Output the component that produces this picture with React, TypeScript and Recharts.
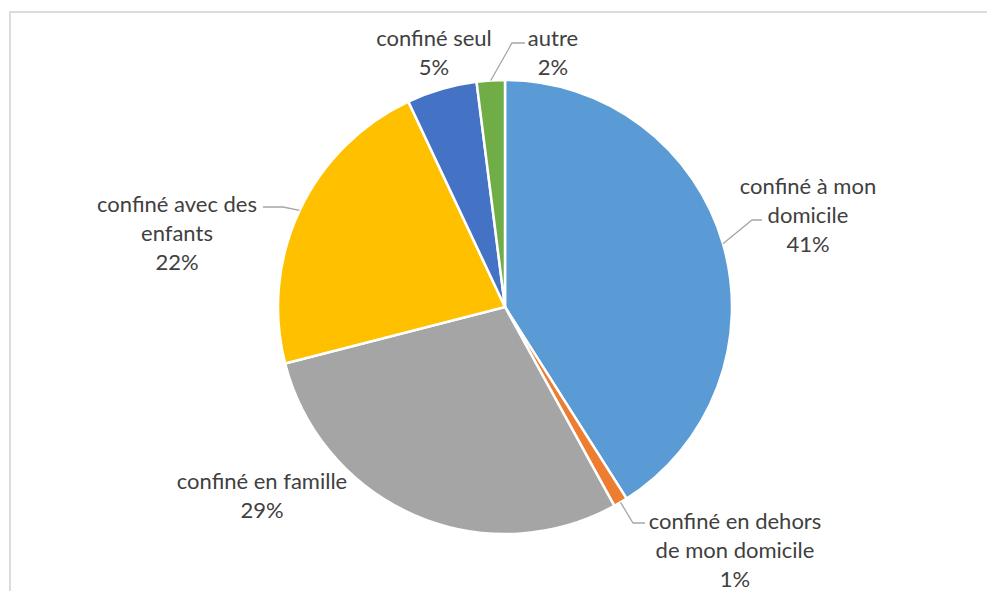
import React from "react";
import { PieChart, Pie, Cell } from "recharts";

const CATEGORIES = [
  "confiné à mon domicile",
  "confiné en dehors de mon domicile",
  "confiné en famille",
  "confiné avec des enfants",
  "confiné seul",
  "autre",
];
const VALUES = [41, 1, 29, 22, 5, 2];
const LABEL_LINES = [
  ["confiné à mon", "domicile"],
  ["confiné en dehors", "de mon domicile"],
  ["confiné en famille"],
  ["confiné avec des", "enfants"],
  ["confiné seul"],
  ["autre"],
];
const COLORS = ["#5B9BD5", "#ED7D31", "#A5A5A5", "#FFC000", "#4472C4", "#70AD47"];

// label layout relative to pie centre (first line centre, optional leader elbow/end)
const LABEL_LAYOUT: { dx: number; dy: number; leader?: [number, number][] }[] = [
  { dx: 303, dy: -122, leader: [[247, -87], [257, -87]] },
  { dx: 230, dy: 213, leader: [[128, 216], [140, 216]] },
  { dx: -243, dy: 173 },
  { dx: -328, dy: -104, leader: [[-222, -100], [-242, -100]] },
  { dx: -71, dy: -270 },
  { dx: 48, dy: -270, leader: [[7, -264], [20, -264]] },
];

const data = CATEGORIES.map((name, i) => ({ name, value: VALUES[i] }));
const RAD = Math.PI / 180;
const LINE_H = 29;

const renderLabel = (props: any) => {
  const { cx, cy, midAngle, outerRadius, index, percent } = props;
  const lay = LABEL_LAYOUT[index];
  const lines = [...LABEL_LINES[index], `${Math.round(percent * 100)}%`];
  const sx = cx + outerRadius * Math.cos(-midAngle * RAD);
  const sy = cy + outerRadius * Math.sin(-midAngle * RAD);
  let leader = null;
  if (lay.leader) {
    const pts = [[sx, sy], ...lay.leader.map(([x, y]) => [cx + x, cy + y])];
    leader = (
      <polyline
        points={pts.map((p) => p.join(",")).join(" ")}
        fill="none"
        stroke="#A6A6A6"
        strokeWidth={1.3}
      />
    );
  }
  return (
    <g key={`lbl-${index}`}>
      {leader}
      {lines.map((t, k) => (
        <text
          key={k}
          x={cx + lay.dx}
          y={cy + lay.dy + k * LINE_H}
          textAnchor="middle"
          dominantBaseline="central"
          fill="#404040"
          fontSize={22}
          fontFamily="Lato, 'Open Sans', sans-serif"
        >
          {t}
        </text>
      ))}
    </g>
  );
};

export default function App() {
  return (
    <div style={{ position: "absolute", left: 0, top: 0, width: 987, height: 591, background: "#fff", overflow: "hidden" }}>
      <div
        style={{
          position: "absolute",
          left: 9,
          top: 11,
          width: 1000,
          height: 620,
          border: "2px solid #DCDCDC",
          boxSizing: "border-box",
        }}
      />
      <div style={{ position: "absolute", left: 0, top: 0 }}>
        <PieChart width={987} height={591} margin={{ top: 0, right: 0, bottom: 0, left: 0 }}>
          <Pie
            data={data}
            dataKey="value"
            nameKey="name"
            cx={505}
            cy={307}
            outerRadius={227}
            startAngle={90}
            endAngle={-270}
            stroke="#FFFFFF"
            strokeWidth={2.5}
            label={renderLabel}
            labelLine={false}
            isAnimationActive={false}
          >
            {data.map((d, i) => (
              <Cell key={d.name} fill={COLORS[i]} />
            ))}
          </Pie>
        </PieChart>
      </div>
    </div>
  );
}
